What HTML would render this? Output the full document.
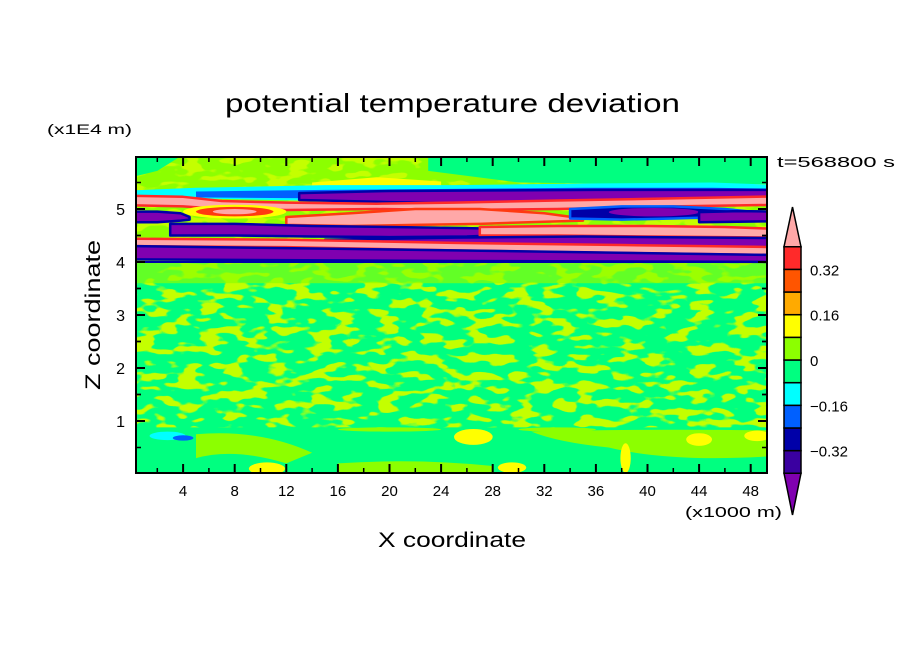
<!DOCTYPE html>
<html><head><meta charset="utf-8"><style>
html,body{margin:0;padding:0;background:#fff;}
svg{display:block;font-family:"Liberation Sans",sans-serif;}
</style></head><body>
<svg id="chart" width="904" height="654" viewBox="0 0 904 654" xmlns="http://www.w3.org/2000/svg">
<defs>
<clipPath id="clip"><rect x="136" y="157" width="631" height="316"/></clipPath>
<filter id="mottle" x="136" y="157" width="631" height="316" filterUnits="userSpaceOnUse">
<feTurbulence type="fractalNoise" baseFrequency="0.045 0.11" numOctaves="2" seed="7" result="n"/>
<feColorMatrix in="n" type="matrix" values="0 0 0 0 0.55  0 0 0 0 1  0 0 0 0 0  14 0 0 0 -7.3"/>
</filter>
</defs>
<text x="225" y="112" font-size="26" textLength="455" lengthAdjust="spacingAndGlyphs">potential temperature deviation</text>
<text x="47" y="134" font-size="14" textLength="85" lengthAdjust="spacingAndGlyphs">(x1E4 m)</text>
<text x="777" y="167" font-size="15" textLength="118" lengthAdjust="spacingAndGlyphs">t=568800 s</text>
<text x="378" y="547" font-size="21" textLength="148" lengthAdjust="spacingAndGlyphs">X coordinate</text>
<text x="685" y="517" font-size="15" textLength="97" lengthAdjust="spacingAndGlyphs">(x1000 m)</text>
<text transform="translate(100,390) rotate(-90)" font-size="21" textLength="150" lengthAdjust="spacingAndGlyphs">Z coordinate</text>
<g id="field" clip-path="url(#clip)"></g>
<g id="axes"></g>
<g id="cbar"></g>
</svg>
<script>
const xTicks = [4,8,12,16,20,24,28,32,36,40,44,48];
const yTicks = [1,2,3,4,5];
const levels = [-0.40,-0.32,-0.24,-0.16,-0.08,0,0.08,0.16,0.24,0.32,0.40];
const levelColors = ["#3a00a0","#0000a8","#0060ff","#00ffff","#00ff80","#8cff00","#ffff00","#ffaa00","#ff5500","#ff2a2a"];
const cbarLabels = ["0.32","0.16","0","-0.16","-0.32"];
const cbarLabelValues = [0.32,0.16,0,-0.16,-0.32];
const overColor = "#ffa8a8";
const underColor = "#8000b0";
// contour bands in data units: x (km), z (x1E4 m)
const bandX = {
  mintTR:[23,30,40,50.5], mintTL:[0,2,4.5], yellowTop:[14,19,24],
  cyan:[0,5,15,25,35,45,50.5], blue:[5,15,25,35,45,50.5],
  purple1:[13,20,27,36,44,50.5], pink1:[0,4,7,12,19,25,33,42,50.5],
  pink2:[12,17,22,27,32,35], navyR:[34,38,42,46,48],
  purple2:[0,2,3.8,4.5], purpleR:[44,47,50.5],
  purple3:[3,8,14,20,26,30], pink3:[27,33,40,46,50.5],
  purpleC:[15,25,35,50.5], pinkA:[0,12,25,38,50.5], purpleB:[0,25,50.5]
};
const bandTop = {
  mintTR:[6.1,6.1,6.1,6.1], mintTL:[6.1,6.1,6.1], yellowTop:[5.5,5.6,5.52],
  cyan:[5.35,5.4,5.45,5.45,5.48,5.5,5.45], blue:[5.33,5.36,5.38,5.4,5.4,5.38],
  purple1:[5.3,5.34,5.35,5.36,5.36,5.36], pink1:[5.25,5.23,5.15,5.12,5.1,5.12,5.16,5.2,5.24],
  pink2:[4.85,4.92,5.0,5.0,4.92,4.82], navyR:[5.0,5.05,5.05,5.0,4.95],
  purple2:[4.95,4.95,4.92,4.85], purpleR:[4.94,4.96,4.95],
  purple3:[4.72,4.72,4.68,4.66,4.64,4.62], pink3:[4.66,4.68,4.68,4.66,4.62],
  purpleC:[4.42,4.46,4.48,4.45], pinkA:[4.44,4.42,4.36,4.32,4.28], purpleB:[4.3,4.22,4.13]
};
const bandBot = {
  mintTR:[5.72,5.5,5.47,5.47], mintTL:[5.6,5.72,6.1], yellowTop:[5.38,5.38,5.42],
  cyan:[5.2,5.2,5.15,5.1,5.05,5.1,5.15], blue:[5.22,5.2,5.15,5.1,5.15,5.2],
  purple1:[5.17,5.13,5.1,5.1,5.14,5.18], pink1:[5.07,5.05,5.0,4.98,5.0,4.98,5.0,5.05,5.08],
  pink2:[4.7,4.68,4.7,4.72,4.76,4.78], navyR:[4.82,4.8,4.82,4.85,4.88],
  purple2:[4.75,4.75,4.78,4.8], purpleR:[4.75,4.76,4.77],
  purple3:[4.5,4.5,4.48,4.47,4.48,4.52], pink3:[4.5,4.5,4.48,4.47,4.46],
  purpleC:[4.32,4.32,4.3,4.28], pinkA:[4.3,4.28,4.22,4.17,4.13], purpleB:[4.05,4.02,4.0]
};
const bandOrder = [["mintTR","#00ff80",null],["mintTL","#00ff80",null],["yellowTop","#ffff00",null],
  ["cyan","#00ffff",null],["blue","#0060ff",null],["purple1","#8000b0","#0000a8"],["pink1","#ffa8a8","#ff2a2a"],
  ["pink2","#ffa8a8","#ff3a10"],["navyR","#0000a8","#0060ff"],["purple2","#8000b0","#0000a8"],["purpleR","#8000b0","#0000a8"],
  ["purple3","#8000b0","#0000a8"],["pink3","#ffa8a8","#ff2a2a"],["purpleC","#8000b0","#0000a8"],["pinkA","#ffa8a8","#ff2a2a"],["purpleB","#8000b0","#0000a8"]];
// blobs: [x, z, rx(km), rz, color]
const blobX = [8,8,8,40.5,10.5,26.5,44,48.5,29.5,38.3,2.8,4,20,33];
const blobZ = [4.95,4.95,4.95,4.94,0.1,0.7,0.65,0.72,0.12,0.3,0.72,0.68,0.84,0.84];
const blobRX = [4,3,1.7,3.5,1.4,1.5,1.0,1.0,1.1,0.4,1.4,0.8,4,3];
const blobRZ = [0.13,0.09,0.05,0.08,0.12,0.15,0.12,0.1,0.1,0.28,0.08,0.05,0.04,0.04];
const blobC = ["#ffff00","#ff3a10","#ffa8a8","#8000b0","#ffff00","#ffff00","#ffff00","#ffff00","#ffff00","#ffff00","#00ffff","#0060ff","#8cff00","#8cff00"];

const NS = "http://www.w3.org/2000/svg";
const sx = v => 131.5 + v*12.9;
const sy = v => 474 - v*53;
function mk(tag, attrs, parent){const e=document.createElementNS(NS,tag);for(const k in attrs)e.setAttribute(k,attrs[k]);parent.appendChild(e);return e;}
const field = document.getElementById('field');
const axes = document.getElementById('axes');
const cbar = document.getElementById('cbar');

let r = mk('rect',{x:136,y:157,width:631,height:316,fill:'#00ff80'},field);


r = mk('rect',{x:136,y:sy(6.1),width:631,height:sy(4)-sy(6.1),fill:'#8cff00'},field);


r = mk('rect',{x:136,y:157,width:631,height:316,fill:'#fff',filter:'url(#mottle)'},field);


r = mk('rect',{x:136,y:sy(4),width:631,height:sy(3.6)-sy(4),fill:'#8cff00',opacity:0.7},field);


r = mk('rect',{x:136,y:sy(0.88),width:631,height:sy(0)-sy(0.88),fill:'#00ff80'},field);


r = mk('path',{d:`M${sx(5)},${sy(0.75)} Q${sx(10)},${sy(0.85)} ${sx(14)},${sy(0.4)} L${sx(12)},${sy(0.2)} Q${sx(8)},${sy(0.5)} ${sx(5)},${sy(0.3)}Z M${sx(31)},${sy(0.8)} Q${sx(40)},${sy(0.86)} ${sx(50.5)},${sy(0.82)} L${sx(50.5)},${sy(0.35)} Q${sx(42)},${sy(0.2)} ${sx(37)},${sy(0.5)} Q${sx(33)},${sy(0.6)} ${sx(31)},${sy(0.8)}Z M${sx(16)},${sy(0.2)} Q${sx(22)},${sy(0.3)} ${sx(28)},${sy(0.15)} L${sx(28)},${sy(0)} L${sx(16)},${sy(0)}Z`,fill:'#8cff00'},field);



let blobIdx = 0;
function drawBlob(i){
  const e = mk('ellipse',{cx:sx(blobX[i]),cy:sy(blobZ[i]),rx:blobRX[i]*12.9,ry:blobRZ[i]*53,fill:blobC[i]},field);
  
  
}
for (const [key,color,edge] of bandOrder){
  const xs=bandX[key], t=bandTop[key], b=bandBot[key];
  let d='M'+xs.map((x,i)=>sx(x)+','+sy(t[i])).join(' L');
  for(let i=xs.length-1;i>=0;i--) d+=' L'+sx(xs[i])+','+sy(b[i]);
  d+='Z';
  const p = mk('path',{d:d,fill:color,'stroke-linejoin':'round'},field);
  if(edge){p.setAttribute('stroke',edge);p.setAttribute('stroke-width','2.5');}
  
  
  if(key==='pink1'){drawBlob(0);drawBlob(1);drawBlob(2);}
  if(key==='navyR'){drawBlob(3);}
}
for(let i=4;i<blobX.length;i++) drawBlob(i);
r = mk('line',{x1:136,x2:767,y1:sy(4.0),y2:sy(4.0),stroke:'#0000a8','stroke-width':2},field);



r = mk('rect',{x:136,y:157,width:631,height:316,fill:'none',stroke:'#000','stroke-width':2},axes);


for(const v of xTicks){
  for(const [y,dy] of [[473,-9],[157,9]]){
    const l=mk('line',{x1:sx(v),x2:sx(v),y1:y,y2:y+dy,stroke:'#000','stroke-width':2},axes);
    
    
  }
  for(const [y,dy] of [[473,-5],[157,5]]){
    const l=mk('line',{x1:sx(v-2),x2:sx(v-2),y1:y,y2:y+dy,stroke:'#000','stroke-width':1.5},axes);
    
    
  }
  const t=mk('text',{x:sx(v),y:496,'font-size':15,'text-anchor':'middle'},axes);
  t.textContent=v;
  
  
}
for(const v of yTicks){
  for(const [x,dx] of [[136,9],[767,-9]]){
    const l=mk('line',{x1:x,x2:x+dx,y1:sy(v),y2:sy(v),stroke:'#000','stroke-width':2},axes);
    
    
  }
  for(const mv of [v-0.5,v+0.5]){
    if(mv>5.9) continue;
    for(const [x,dx] of [[136,5],[767,-5]]){
      const l=mk('line',{x1:x,x2:x+dx,y1:sy(mv),y2:sy(mv),stroke:'#000','stroke-width':1.5},axes);
      
      
    }
  }
  const t=mk('text',{x:125,y:sy(v)+6,'font-size':16,'text-anchor':'end'},axes);
  t.textContent=v;
  
  
}

const cx0=784, cw=17;
const cy = v => 473.3 - (v-levels[0])/(levels[levels.length-1]-levels[0])*226.6;
for(let i=0;i<levelColors.length;i++){
  const b=mk('rect',{x:cx0,y:cy(levels[i+1]),width:cw,height:cy(levels[i])-cy(levels[i+1]),fill:levelColors[i],stroke:'#000','stroke-width':1.5},cbar);
  
  
}
let tri=mk('polygon',{points:`${cx0},${cy(levels[levels.length-1])} ${cx0+cw},${cy(levels[levels.length-1])} ${cx0+cw/2},207`,fill:overColor,stroke:'#000','stroke-width':1.5},cbar);


tri=mk('polygon',{points:`${cx0},${cy(levels[0])} ${cx0+cw},${cy(levels[0])} ${cx0+cw/2},515`,fill:underColor,stroke:'#000','stroke-width':1.5},cbar);


for(let i=0;i<cbarLabels.length;i++){
  const t=mk('text',{x:810,y:cy(cbarLabelValues[i])+6,'font-size':15},cbar);
  t.textContent=cbarLabels[i].replace('-','\u2212');
  
  
}
</script>
</body></html>
